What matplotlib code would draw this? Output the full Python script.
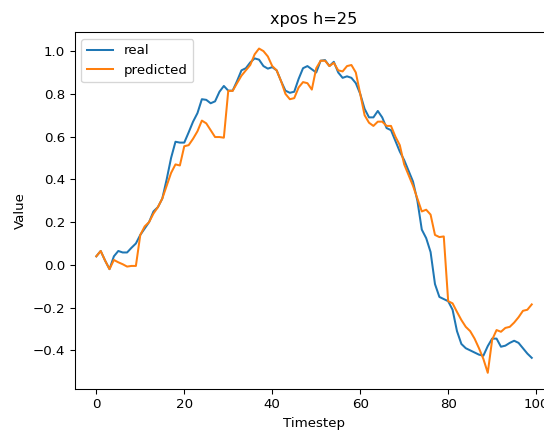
import numpy as np
import matplotlib
matplotlib.use("Agg")
import matplotlib.pyplot as plt

# values, one per timestep 0..99
real = [0.04, 0.065, 0.02, -0.02, 0.04, 0.065, 0.058, 0.058, 0.08, 0.10,
        0.14, 0.17, 0.20, 0.25, 0.27, 0.31, 0.40, 0.50, 0.576, 0.572,
        0.572, 0.62, 0.67, 0.71, 0.775, 0.772, 0.756, 0.765, 0.81, 0.837,
        0.815, 0.815, 0.86, 0.91, 0.92, 0.947, 0.966, 0.96, 0.93, 0.918,
        0.925, 0.91, 0.86, 0.815, 0.805, 0.81, 0.87, 0.92, 0.93, 0.915,
        0.90, 0.955, 0.958, 0.93, 0.95, 0.90, 0.875, 0.882, 0.875, 0.85,
        0.80, 0.73, 0.69, 0.69, 0.72, 0.69, 0.64, 0.63, 0.58, 0.53,
        0.49, 0.44, 0.39, 0.30, 0.165, 0.125, 0.06, -0.09, -0.15, -0.16,
        -0.17, -0.21, -0.31, -0.37, -0.39, -0.40, -0.41, -0.42, -0.425, -0.38,
        -0.345, -0.345, -0.383, -0.378, -0.365, -0.355, -0.365, -0.39, -0.415, -0.435]

predicted = [0.04, 0.065, 0.02, -0.02, 0.023, 0.012, 0.003, -0.008, -0.005, -0.005,
             0.14, 0.18, 0.20, 0.24, 0.27, 0.31, 0.37, 0.43, 0.47, 0.465,
             0.555, 0.56, 0.59, 0.625, 0.675, 0.662, 0.63, 0.598, 0.598, 0.595,
             0.814, 0.814, 0.85, 0.885, 0.91, 0.935, 0.985, 1.012, 1.00, 0.975,
             0.93, 0.91, 0.86, 0.80, 0.775, 0.78, 0.83, 0.855, 0.85, 0.82,
             0.92, 0.955, 0.955, 0.93, 0.945, 0.91, 0.905, 0.93, 0.935, 0.90,
             0.80, 0.70, 0.665, 0.65, 0.67, 0.67, 0.65, 0.65, 0.60, 0.56,
             0.47, 0.42, 0.37, 0.31, 0.25, 0.258, 0.235, 0.14, 0.13, 0.133,
             -0.17, -0.18, -0.22, -0.258, -0.29, -0.31, -0.345, -0.39, -0.44, -0.505,
             -0.35, -0.305, -0.313, -0.295, -0.29, -0.27, -0.245, -0.215, -0.21, -0.185]

timesteps = np.arange(len(real))

dpi = 96.6
fig = plt.figure(figsize=(544 / dpi, 430 / dpi), dpi=dpi)
# axes run past the right edge, as in the (cropped) reference
ax = fig.add_axes([0.137, 0.0953, 0.8805, 0.8295])
ax.plot(timesteps, real, label="real")
ax.plot(timesteps, predicted, label="predicted")
ax.set_title("xpos h=25")
ax.set_xlabel("Timestep")
ax.set_ylabel("Value")
ax.legend(loc="upper left")

fig.savefig("out.png", dpi=dpi)
